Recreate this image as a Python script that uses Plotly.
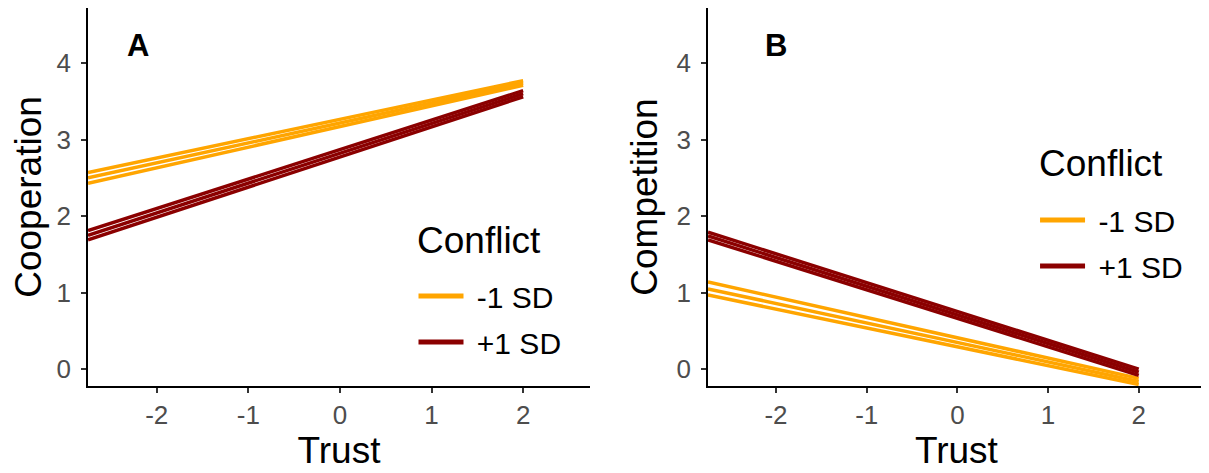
import plotly.graph_objects as go

# Trust values where the simple slopes are drawn
trust = [-2.75, 2.0]

# Panel A - Cooperation (low, fit, high lines) for each level of conflict
coop_minus_lo = [2.43, 3.71]
coop_minus_fit = [2.50, 3.74]
coop_minus_hi = [2.57, 3.77]
coop_plus_lo = [1.69, 3.56]
coop_plus_fit = [1.75, 3.60]
coop_plus_hi = [1.81, 3.64]

# Panel B - Competition
comp_minus_lo = [0.97, -0.20]
comp_minus_fit = [1.05, -0.16]
comp_minus_hi = [1.14, -0.12]
comp_plus_lo = [1.69, -0.08]
comp_plus_fit = [1.74, -0.04]
comp_plus_hi = [1.79, 0.00]

groups = ["-1 SD", "+1 SD"]
colors = {"-1 SD": "#FFA500", "+1 SD": "#8B0000"}

x_ticks = [-2, -1, 0, 1, 2]
x_ticktext = ["-2", "-1", "0", "1", "2"]
y_ticks = [0, 1, 2, 3, 4]

fig = go.Figure()

panels = [
    ("x", "y", "legend", {"-1 SD": [coop_minus_lo, coop_minus_fit, coop_minus_hi],
                          "+1 SD": [coop_plus_lo, coop_plus_fit, coop_plus_hi]}),
    ("x2", "y2", "legend2", {"-1 SD": [comp_minus_lo, comp_minus_fit, comp_minus_hi],
                             "+1 SD": [comp_plus_lo, comp_plus_fit, comp_plus_hi]}),
]

for xa, ya, leg, data in panels:
    for g in groups:
        for ys in data[g]:
            fig.add_trace(go.Scatter(
                x=trust, y=ys, mode="lines", xaxis=xa, yaxis=ya,
                line=dict(color=colors[g], width=3.5),
                showlegend=False, hoverinfo="skip"))
        # legend key
        fig.add_trace(go.Scatter(
            x=[None], y=[None], mode="lines", xaxis=xa, yaxis=ya,
            line=dict(color=colors[g], width=5),
            name="&nbsp;" + g, legend=leg, legendgroup=leg + g, showlegend=True))

axis_style = dict(
    showline=True, linecolor="black", linewidth=1.6, mirror=False,
    ticks="outside", ticklen=5, tickwidth=1.6, tickcolor="#333333",
    showgrid=False, zeroline=False,
    tickfont=dict(size=26, color="#4d4d4d"),
)
title_font = dict(size=37)
legend_style = dict(xanchor="left", yanchor="top", font=dict(size=30),
                    tracegroupgap=4, itemwidth=45, bgcolor="rgba(0,0,0,0)")

fig.update_layout(
    width=1209, height=473,
    margin=dict(l=0, r=0, t=0, b=0),
    paper_bgcolor="white", plot_bgcolor="white",
    font=dict(family="Liberation Sans, Arial, sans-serif", color="black"),
    xaxis=dict(domain=[0.0662, 0.4814], range=[-2.75, 2.73], tickvals=x_ticks, ticktext=x_ticktext,
               title=dict(text="Trust", font=title_font, standoff=4), **axis_style),
    yaxis=dict(domain=[0.2008, 1.0], range=[-0.22, 4.72], tickvals=y_ticks, ticklabelstandoff=5,
               title=dict(text="Cooperation", font=title_font, standoff=8), **axis_style),
    xaxis2=dict(domain=[0.579, 0.990], range=[-2.75, 2.73], tickvals=x_ticks, ticktext=x_ticktext,
                anchor="y2", title=dict(text="Trust", font=title_font, standoff=4), **axis_style),
    yaxis2=dict(domain=[0.2008, 1.0], range=[-0.22, 4.72], tickvals=y_ticks, anchor="x2",
                ticklabelstandoff=5,
                title=dict(text="Competition", font=title_font, standoff=8), **axis_style),
    legend=dict(x=0.3354, y=0.446, **legend_style),
    legend2=dict(x=0.8495, y=0.607, **legend_style),
    annotations=[
        dict(text="<b>A</b>", x=-2.2, y=4.23, xref="x", yref="y", showarrow=False,
             font=dict(size=31, color="black")),
        dict(text="<b>B</b>", x=-2.0, y=4.23, xref="x2", yref="y2", showarrow=False,
             font=dict(size=31, color="black")),
        dict(text="Conflict", x=0.3366, y=0.5074, xref="paper", yref="paper",
             xanchor="left", yanchor="middle", showarrow=False, font=title_font),
        dict(text="Conflict", x=0.8511, y=0.6723, xref="paper", yref="paper",
             xanchor="left", yanchor="middle", showarrow=False, font=title_font),
    ],
)

fig.write_html("out.html")
